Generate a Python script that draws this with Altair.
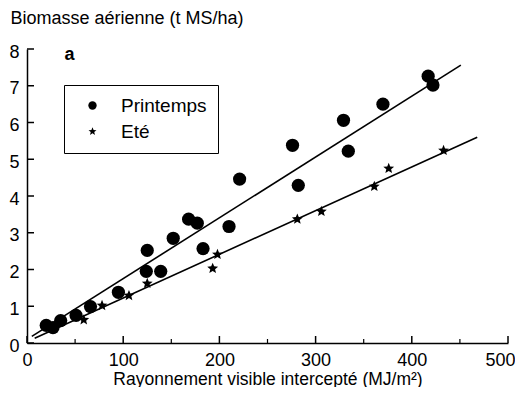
import altair as alt
import pandas as pd

FONT = "Liberation Sans"

# ---- data ----
series = ["Printemps", "Eté"]
spring_x = [20, 27, 35, 51, 66, 95, 124, 125, 139, 152, 168, 177, 183, 210, 221, 276, 282, 329, 334, 370, 417, 422]
spring_y = [0.48, 0.42, 0.61, 0.75, 0.99, 1.38, 1.95, 2.52, 1.95, 2.85, 3.37, 3.26, 2.57, 3.17, 4.46, 5.38, 4.29, 6.06, 5.22, 6.50, 7.26, 7.02]
summer_x = [59, 78, 106, 125, 193, 198, 281, 306, 361, 376, 433]
summer_y = [0.63, 1.02, 1.29, 1.62, 2.03, 2.41, 3.37, 3.58, 4.26, 4.75, 5.24]
fit_spring_x = [5, 451]
fit_spring_y = [0.18, 7.56]
fit_summer_x = [8, 468]
fit_summer_y = [0.13, 5.60]
x_major = [0, 100, 200, 300, 400, 500]
x_minor = [50, 150, 250, 350, 450]
y_major = [0, 1, 2, 3, 4, 5, 6, 7, 8]
panel_label = ["a"]
panel_label_x = [39]
panel_label_y = [7.84]

W, H = 481, 294

STAR = ("M0,-1L0.26,-0.36L0.951,-0.309L0.42,0.137L0.588,0.809L0,0.44"
        "L-0.588,0.809L-0.42,0.137L-0.951,-0.309L-0.26,-0.36Z")

spring_df = pd.DataFrame({"x": spring_x, "y": spring_y, "s": [series[0]] * len(spring_x)})
summer_df = pd.DataFrame({"x": summer_x, "y": summer_y, "s": [series[1]] * len(summer_x)})
fits = pd.DataFrame({
    "x": fit_spring_x + fit_summer_x,
    "y": fit_spring_y + fit_summer_y,
    "s": [series[0]] * len(fit_spring_x) + [series[1]] * len(fit_summer_x),
})

xscale = alt.Scale(domain=[0, 500], nice=False, zero=False)
yscale = alt.Scale(domain=[0, 8], nice=False, zero=False)

xaxis = alt.Axis(
    values=x_major, ticks=False, grid=False, domainColor="black", domainWidth=1.5,
    labelFont=FONT, labelFontSize=18, labelColor="black", labelPadding=8, labelFlush=False,
    labelAlign=alt.ExprRef(expr="datum.value >= 500 ? 'right' : 'center'"),
    labelOffset=alt.ExprRef(expr="datum.value >= 500 ? 7 : 0"),
    title="Rayonnement visible intercepté (MJ/m²)", titleFont=FONT, titleFontSize=17.5,
    titleFontWeight="normal", titleColor="black", titleBaseline="alphabetic", titleY=41)
yaxis = alt.Axis(
    values=y_major, ticks=False, grid=False, domainColor="black", domainWidth=1.5,
    labelFont=FONT, labelFontSize=18, labelColor="black", labelPadding=8, labelOffset=3,
    title="Biomasse aérienne (t MS/ha)", titleFont=FONT, titleFontSize=18,
    titleFontWeight="normal", titleColor="black", titleAngle=0, titleAlign="left",
    titleBaseline="middle", titleX=-17, titleY=-31)

X = lambda f: alt.X(f, scale=xscale, axis=xaxis)
Y = lambda f: alt.Y(f, scale=yscale, axis=yaxis)

shape_enc = alt.Shape(
    "s:N", scale=alt.Scale(domain=series, range=["circle", STAR]),
    legend=alt.Legend(title=None, orient="none", legendX=37, legendY=36,
                      strokeColor="black", fillColor="white", padding=11,
                      labelFont=FONT, labelFontSize=19, labelColor="black",
                      labelExpr="datum.label + '\u00a0'",
                      symbolSize=70, symbolOffset=8, labelOffset=19, rowPadding=6))

circles = alt.Chart(spring_df).mark_point(filled=True, opacity=1, color="black", strokeWidth=0, size=175).encode(
    x=X("x:Q"), y=Y("y:Q"), shape=shape_enc)
stars = alt.Chart(summer_df).mark_point(filled=True, opacity=1, color="black", strokeWidth=0, size=130).encode(
    x=X("x:Q"), y=Y("y:Q"), shape=shape_enc)

lines = alt.Chart(fits).mark_line(color="black", strokeWidth=1.6).encode(
    x=X("x:Q"), y=Y("y:Q"), detail="s:N")

xt_major = alt.Chart(pd.DataFrame({"x": x_major})).mark_rule(color="black", strokeWidth=1.5).encode(
    x=X("x:Q"), y=alt.value(H), y2=alt.value(H - 7))
xt_minor = alt.Chart(pd.DataFrame({"x": x_minor})).mark_rule(color="black", strokeWidth=1.2).encode(
    x=X("x:Q"), y=alt.value(H), y2=alt.value(H - 4))
yt = alt.Chart(pd.DataFrame({"y": y_major})).mark_rule(color="black", strokeWidth=1.5).encode(
    y=Y("y:Q"), x=alt.value(0), x2=alt.value(7))

ann = alt.Chart(pd.DataFrame({"x": panel_label_x, "y": panel_label_y, "t": panel_label})).mark_text(
    font=FONT, fontSize=18, fontWeight="bold", align="left", baseline="middle", color="black").encode(
    x=X("x:Q"), y=Y("y:Q"), text="t:N")

chart = alt.layer(circles, stars, lines, xt_major, xt_minor, yt, ann).properties(
    width=W, height=H,
    autosize=alt.AutoSizeParams(type="none"),
    padding={"left": 19, "top": 41, "right": 7, "bottom": 44},
    background="white",
).configure_view(stroke=None)

chart.save("out.html", embed_options={"renderer": "svg", "actions": False})
